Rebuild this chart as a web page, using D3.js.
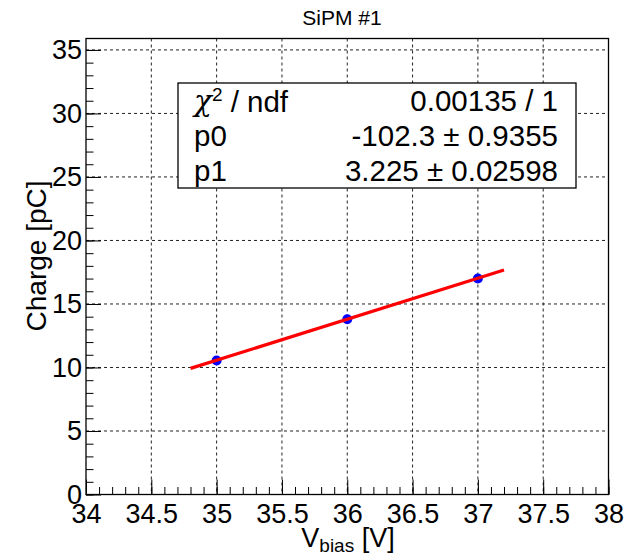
<!DOCTYPE html>
<html>
<head>
<meta charset="utf-8">
<script src="https://cdn.jsdelivr.net/npm/d3@7"></script>
<style>
  body { margin: 0; background: #fff; }
  svg { font-family: "Liberation Sans", Arial, sans-serif; }
</style>
</head>
<body>
<svg id="chart" width="628" height="554"></svg>
<script>
// data
const vbias = [35, 36, 37];
const charge = [10.55, 13.8, 17.0];
const fitP0 = -102.3;
const fitP1 = 3.225;
const fitRange = [34.8, 37.2];
const xTickValues = [34, 34.5, 35, 35.5, 36, 36.5, 37, 37.5, 38];
const yTickValues = [0, 5, 10, 15, 20, 25, 30, 35];
const statsNames = ['p0', 'p1'];
const statsValues = ['-102.3', '3.225'];
const statsErrors = ['0.9355', '0.02598'];
const chi2Text = '0.00135 / 1';

const svg = d3.select('#chart');
const width = +svg.attr('width');
const height = +svg.attr('height');
const margin = { top: 38.5, right: 19.5, bottom: 59.5, left: 86 };
const innerWidth = width - margin.left - margin.right;
const innerHeight = height - margin.top - margin.bottom;
const g = svg.append('g')
        .attr('transform', `translate(${margin.left}, ${margin.top})`);

// scales
const xScale = d3.scaleLinear().domain([34, 38]).range([0, innerWidth]);
const yScale = d3.scaleLinear().domain([0, 35.9]).range([innerHeight, 0]);

// grid
const gridColor = '#222';
g.selectAll('line.vgrid')
        .data(xTickValues.slice(1, -1))
        .enter().append('line')
        .attr('class', 'vgrid')
        .attr('x1', d => xScale(d)).attr('x2', d => xScale(d))
        .attr('y1', 0).attr('y2', innerHeight)
        .attr('stroke', gridColor).attr('stroke-width', 1)
        .attr('stroke-dasharray', '3,3');
g.selectAll('line.hgrid')
        .data(yTickValues.slice(1))
        .enter().append('line')
        .attr('class', 'hgrid')
        .attr('x1', 0).attr('x2', innerWidth)
        .attr('y1', d => yScale(d)).attr('y2', d => yScale(d))
        .attr('stroke', gridColor).attr('stroke-width', 1)
        .attr('stroke-dasharray', '3,3');

// axes (ticks drawn inside the frame, ROOT style)
const xMinor = d3.range(34, 38.0001, 0.1);
const yMinor = d3.range(0, 35.9, 1);
const xAxisMinor = d3.axisBottom(xScale).tickValues(xMinor).tickSizeInner(-7.5).tickSizeOuter(0).tickFormat('');
const xAxis = d3.axisBottom(xScale).tickValues(xTickValues).tickSizeInner(-15).tickSizeOuter(0)
        .tickFormat(d3.format('~g'));
const yAxisMinor = d3.axisLeft(yScale).tickValues(yMinor).tickSizeInner(-7.5).tickSizeOuter(0).tickFormat('');
const yAxis = d3.axisLeft(yScale).tickValues(yTickValues).tickSizeInner(-15).tickSizeOuter(0)
        .tickPadding(4).tickFormat(d3.format('~g'));

const xg = g.append('g').attr('transform', `translate(0, ${innerHeight})`);
xg.append('g').attr('class', 'minor').call(xAxisMinor);
xg.append('g').call(xAxis);
const yg = g.append('g');
yg.append('g').attr('class', 'minor').call(yAxisMinor);
yg.append('g').call(yAxis);
svg.selectAll('.minor .tick text').remove();
svg.selectAll('.domain').remove();
svg.selectAll('.tick line').attr('stroke', '#000').attr('stroke-width', 1);
xg.selectAll('.tick text')
        .attr('font-size', 27).attr('fill', '#000')
        .attr('y', 28).attr('dy', null);
yg.selectAll('.tick text')
        .attr('font-size', 27).attr('fill', '#000');

// frame
g.append('rect')
        .attr('x', 0).attr('y', 0)
        .attr('width', innerWidth).attr('height', innerHeight)
        .attr('fill', 'none').attr('stroke', '#000').attr('stroke-width', 1.3);

// data points
g.selectAll('circle.pt')
        .data(vbias.map((v, i) => [v, charge[i]]))
        .enter().append('circle')
        .attr('class', 'pt')
        .attr('cx', d => xScale(d[0]))
        .attr('cy', d => yScale(d[1]))
        .attr('r', 5)
        .attr('fill', '#0000ff');

// fit line
const line = d3.line().x(d => xScale(d)).y(d => yScale(fitP0 + fitP1 * d));
g.append('path')
        .attr('d', line(fitRange))
        .attr('fill', 'none')
        .attr('stroke', '#ff0000')
        .attr('stroke-width', 3.2);

// stats box
const box = { x: 178, y: 83, w: 398, h: 105 };
const sb = svg.append('g');
sb.append('rect')
        .attr('x', box.x).attr('y', box.y)
        .attr('width', box.w).attr('height', box.h)
        .attr('fill', '#fff').attr('stroke', '#000').attr('stroke-width', 1.3);
const rowH = box.h / 3;
const statFont = 29.5;
const leftX = box.x + 16;
const rightX = box.x + box.w - 18;
const chiText = sb.append('text')
        .attr('x', leftX).attr('y', box.y + rowH * 0.5)
        .attr('dy', '0.36em').attr('font-size', statFont);
chiText.append('tspan').text('χ').attr('font-family', '"DejaVu Serif", serif').attr('font-style', 'italic');
chiText.append('tspan').text('2').attr('font-size', 19).attr('dy', '-0.55em');
chiText.append('tspan').text(' / ndf').attr('dy', '0.37em');
sb.append('text')
        .attr('x', rightX).attr('y', box.y + rowH * 0.5)
        .attr('dy', '0.36em').attr('font-size', statFont)
        .attr('text-anchor', 'end')
        .text(chi2Text);
statsNames.forEach((name, i) => {
    const y = box.y + rowH * (i + 1.5);
    sb.append('text')
            .attr('x', leftX).attr('y', y).attr('dy', '0.36em')
            .attr('font-size', statFont).text(name);
    sb.append('text')
            .attr('x', rightX).attr('y', y).attr('dy', '0.36em')
            .attr('font-size', statFont).attr('text-anchor', 'end')
            .text(`${statsValues[i]} ± ${statsErrors[i]}`);
});

// title
svg.append('text')
        .attr('x', 342).attr('y', 25)
        .attr('text-anchor', 'middle')
        .attr('font-size', 21)
        .text('SiPM #1');

// axis labels
const xl = svg.append('text')
        .attr('x', 348).attr('y', 547)
        .attr('text-anchor', 'middle')
        .attr('font-size', 27);
xl.append('tspan').text('V');
xl.append('tspan').text('bias').attr('font-size', 19).attr('dy', 5);
xl.append('tspan').text(' [V]').attr('dy', -5);

svg.append('text')
        .attr('transform', 'translate(46, 256) rotate(-90)')
        .attr('text-anchor', 'middle')
        .attr('font-size', 28)
        .text('Charge [pC]');
</script>
</body>
</html>
